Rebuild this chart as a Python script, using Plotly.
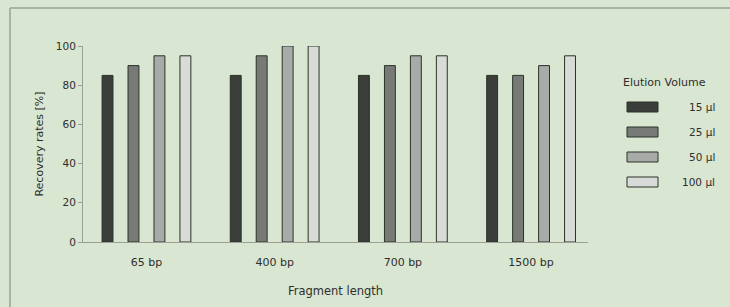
import plotly.graph_objects as go

categories = ["65 bp", "400 bp", "700 bp", "1500 bp"]
series_names = ["15 µl", "25 µl", "50 µl", "100 µl"]
values_15 = [85, 85, 85, 85]
values_25 = [90, 95, 90, 85]
values_50 = [95, 100, 95, 90]
values_100 = [95, 100, 95, 95]
y_ticks = [0, 20, 40, 60, 80, 100]

series_values = [values_15, values_25, values_50, values_100]
colors = ["#3b3d3b", "#787a78", "#a9aba9", "#d9dbd9"]
font = "DejaVu Sans, Verdana, sans-serif"
txt = "#2e2e2e"

L, R, T, B = 83, 588, 46, 242
PW, PH = R - L, B - T


def px(x):
    return (x - L) / PW


def py(y):
    return 1 - (y - T) / PH


fig = go.Figure()
for name, vals, col in zip(series_names, series_values, colors):
    fig.add_trace(go.Bar(
        x=categories, y=vals, name=name,
        marker=dict(color=col, line=dict(color="#2a3328", width=1)),
        showlegend=False,
    ))

fig.update_layout(
    width=730, height=307,
    margin=dict(l=L, r=730 - R, t=T, b=307 - B),
    paper_bgcolor="#d9e6d1",
    plot_bgcolor="rgba(0,0,0,0)",
    barmode="group",
    bargap=0.19,
    bargroupgap=0.58,
    font=dict(family=font, size=10, color=txt),
    xaxis=dict(
        range=[-0.495, 3.444],
        showline=True, linecolor="#9aa096", linewidth=1,
        ticks="", showgrid=False, ticklabelstandoff=10,
        title=dict(text="Fragment length", font=dict(size=11.5, color=txt), standoff=18),
        tickfont=dict(size=11, color=txt),
    ),
    yaxis=dict(
        range=[0, 100], tickvals=y_ticks,
        showline=True, linecolor="#9aa096", linewidth=1,
        ticks="outside", ticklen=4, tickcolor="#9aa096",
        showgrid=False, zeroline=False,
        title=dict(text="Recovery rates [%]", font=dict(size=11, color=txt), standoff=10),
        tickfont=dict(size=10.5, color=txt),
    ),
)

# frame lines (top and left)
fig.add_shape(type="line", xref="paper", yref="paper",
              x0=px(10), x1=px(730), y0=py(8), y1=py(8),
              line=dict(color="#a9b2a5", width=2))
fig.add_shape(type="line", xref="paper", yref="paper",
              x0=px(10), x1=px(10), y0=py(8), y1=py(307),
              line=dict(color="#a9b2a5", width=2))

# manual legend
fig.add_annotation(
    xref="paper", yref="paper", x=px(621), y=py(82),
    text="Elution Volume", showarrow=False, xanchor="left", yanchor="middle",
    font=dict(size=11, color=txt),
)
for i, (name, col) in enumerate(zip(series_names, colors)):
    yc = 107 + i * 25
    fig.add_shape(
        type="rect", xref="paper", yref="paper",
        x0=px(627), x1=px(658), y0=py(yc + 5), y1=py(yc - 5),
        fillcolor=col, line=dict(color="#2a3328", width=1),
    )
    fig.add_annotation(
        xref="paper", yref="paper", x=px(717), y=py(yc),
        text=name, showarrow=False, xanchor="right", yanchor="middle",
        font=dict(size=10.5, color=txt),
    )

fig.write_html("out.html", post_script="document.body.style.margin='0';",
               config={"displayModeBar": False})
